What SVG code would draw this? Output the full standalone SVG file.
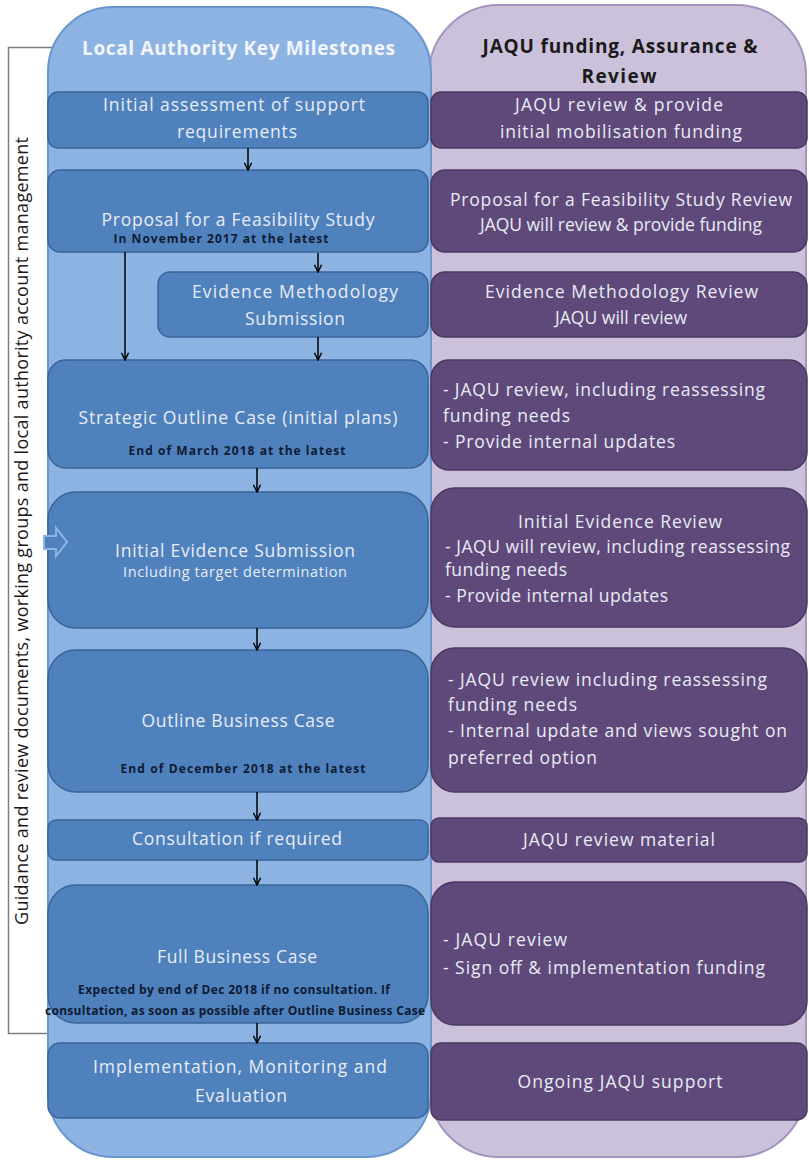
<svg xmlns="http://www.w3.org/2000/svg" width="809" height="1160" viewBox="0 0 809 1160">
<defs>
<marker id="ah" viewBox="0 0 10 10" refX="9" refY="5" markerWidth="9" markerHeight="9" markerUnits="userSpaceOnUse" orient="auto">
<path d="M1,1 L9,5 L1,9" fill="none" stroke="#000" stroke-width="1.6"/>
</marker>
</defs>
<style>
text{font-family:"Open Sans","Liberation Sans",sans-serif;}
.lb{fill:#4F81BD;stroke:#3A659A;stroke-width:1.5;}
.rb{fill:#5F497A;stroke:#4A3962;stroke-width:1.5;}
.t{font-size:17.5px;fill:#E8ECF4;}
.tc{text-anchor:middle;}
.d{font-size:12px;font-weight:bold;fill:#0E1B33;text-anchor:middle;}
.h{font-size:19px;font-weight:bold;text-anchor:middle;}
.c{stroke:#000;stroke-width:1.5;fill:none;marker-end:url(#ah);}
</style>
<rect width="809" height="1160" fill="#fff"/>
<g id="bracket">
<rect x="8.5" y="47.5" width="45" height="986" fill="#fff" stroke="#7F7F7F" stroke-width="1.5"/>
<text transform="translate(28,531) rotate(-90)" text-anchor="middle" font-size="18" fill="#1a1a1a" textLength="788">Guidance and review documents, working groups and local authority account management</text>
</g>
<g id="lane-jaqu">
<rect x="429" y="5" width="377" height="1152" rx="70" fill="#CCC1DA" stroke="#A395BF" stroke-width="2"/>
<text class="h" x="620" y="53" fill="#1A1A1A" textLength="275">JAQU funding, Assurance &amp;</text>
<text class="h" x="619" y="83" fill="#1A1A1A" textLength="75">Review</text>
</g>
<g id="lane-la">
<rect x="48" y="7" width="383" height="1150" rx="65" fill="#8DB3E2" stroke="#6A96CE" stroke-width="2"/>
<text class="h" x="238.5" y="55" fill="#F2F5FB" textLength="313">Local Authority Key Milestones</text>
</g>
<g id="la-initial">
<rect class="lb" x="48" y="92" width="380" height="56" rx="10"/>
<text class="t tc" x="234" y="111" textLength="262">Initial assessment of support</text>
<text class="t tc" x="237" y="138" textLength="120">requirements</text>
</g>
<g id="la-proposal">
<rect class="lb" x="48" y="170" width="380" height="82" rx="12"/>
<text class="t tc" x="238" y="226" textLength="273">Proposal for a Feasibility Study</text>
<text class="d" x="221" y="243" textLength="215">In November 2017 at the latest</text>
</g>
<g id="la-evidence-method">
<rect class="lb" x="158" y="272" width="270" height="65" rx="12"/>
<text class="t tc" x="295" y="298" textLength="206">Evidence Methodology</text>
<text class="t tc" x="295" y="325" textLength="100">Submission</text>
</g>
<g id="la-soc">
<rect class="lb" x="48" y="360" width="380" height="108" rx="18"/>
<text class="t tc" x="238" y="424" textLength="319">Strategic Outline Case (initial plans)</text>
<text class="d" x="237" y="455" textLength="217">End of March 2018 at the latest</text>
</g>
<g id="la-ies">
<rect class="lb" x="48" y="492" width="380" height="136" rx="28"/>
<path d="M44,536 L56,536 L56,528 L67,542 L56,556 L56,549 L44,549 Z" fill="#4F81BD" stroke="#8DB3E2" stroke-width="2"/>
<text class="t tc" x="235" y="557" textLength="240">Initial Evidence Submission</text>
<text class="tc" x="235" y="577" font-size="14.5" fill="#E8ECF4" textLength="224">Including target determination</text>
</g>
<g id="la-obc">
<rect class="lb" x="48" y="650" width="380" height="142" rx="28"/>
<text class="t tc" x="238" y="727" textLength="193">Outline Business Case</text>
<text class="d" x="243" y="773" textLength="245">End of December 2018 at the latest</text>
</g>
<g id="la-consult">
<rect class="lb" x="48" y="820" width="380" height="40" rx="8"/>
<text class="t tc" x="237" y="845" textLength="210">Consultation if required</text>
</g>
<g id="la-fbc">
<rect class="lb" x="48" y="885" width="380" height="138" rx="28"/>
<text class="t tc" x="237" y="963" textLength="160">Full Business Case</text>
<text class="d" x="234" y="994" font-size="11" textLength="312">Expected by end of Dec 2018 if no consultation.  If</text>
<text class="d" x="235" y="1015" font-size="11" textLength="380">consultation,  as soon as possible after Outline Business Case</text>
</g>
<g id="la-impl">
<rect class="lb" x="48" y="1043" width="380" height="75" rx="12"/>
<text class="t tc" x="240" y="1073" textLength="294">Implementation, Monitoring and</text>
<text class="t tc" x="241" y="1102" textLength="92">Evaluation</text>
</g>
<g id="jq-initial">
<rect class="rb" x="431" y="92" width="376" height="56" rx="10"/>
<text class="t tc" x="619" y="111" textLength="208">JAQU review &amp; provide</text>
<text class="t tc" x="621" y="138" textLength="242">initial mobilisation funding</text>
</g>
<g id="jq-proposal">
<rect class="rb" x="431" y="170" width="376" height="82" rx="14"/>
<text class="t tc" x="621" y="206" textLength="342">Proposal for a Feasibility Study Review</text>
<text class="t tc" x="621" y="231" font-size="16" textLength="282">JAQU will review &amp; provide funding</text>
</g>
<g id="jq-evidence-method">
<rect class="rb" x="431" y="272" width="376" height="65" rx="14"/>
<text class="t tc" x="621.5" y="298" textLength="273">Evidence Methodology Review</text>
<text class="t tc" x="621" y="324" font-size="16" textLength="132">JAQU will review</text>
</g>
<g id="jq-soc">
<rect class="rb" x="431" y="360" width="376" height="110" rx="18"/>
<text class="t" x="443" y="396" textLength="322">- JAQU review, including reassessing</text>
<text class="t" x="443" y="422" textLength="127">funding needs</text>
<text class="t" x="443" y="448" textLength="232">- Provide internal updates</text>
</g>
<g id="jq-ies">
<rect class="rb" x="431" y="488" width="376" height="139" rx="24"/>
<text class="t tc" x="620" y="528" textLength="204">Initial Evidence Review</text>
<text class="t" x="445" y="553" textLength="345">- JAQU will review, including reassessing</text>
<text class="t" x="445" y="576" textLength="122">funding needs</text>
<text class="t" x="445" y="602" textLength="223">- Provide internal updates</text>
</g>
<g id="jq-obc">
<rect class="rb" x="431" y="648" width="376" height="144" rx="24"/>
<text class="t" x="448" y="686" textLength="319">- JAQU review including reassessing</text>
<text class="t" x="448" y="711" textLength="129">funding needs</text>
<text class="t" x="448" y="737" textLength="339">- Internal update and views sought on</text>
<text class="t" x="448" y="764" textLength="149">preferred option</text>
</g>
<g id="jq-consult">
<rect class="rb" x="431" y="818" width="376" height="44" rx="8"/>
<text class="t tc" x="619" y="846" textLength="192">JAQU review material</text>
</g>
<g id="jq-fbc">
<rect class="rb" x="431" y="882" width="376" height="143" rx="24"/>
<text class="t" x="443" y="946" textLength="124">- JAQU review</text>
<text class="t" x="443" y="974" textLength="322">- Sign off &amp; implementation funding</text>
</g>
<g id="jq-impl">
<rect class="rb" x="431" y="1043" width="376" height="77" rx="10"/>
<text class="t tc" x="620" y="1088" textLength="205">Ongoing JAQU support</text>
</g>
<g id="connectors">
<line class="c" x1="248" y1="148" x2="248" y2="170"/>
<line class="c" x1="125" y1="252" x2="125" y2="360"/>
<line class="c" x1="318" y1="253" x2="318" y2="272"/>
<line class="c" x1="318" y1="337" x2="318" y2="360"/>
<line class="c" x1="257" y1="468" x2="257" y2="492"/>
<line class="c" x1="257" y1="628" x2="257" y2="650"/>
<line class="c" x1="257" y1="792" x2="257" y2="820"/>
<line class="c" x1="257" y1="860" x2="257" y2="885"/>
<line class="c" x1="257" y1="1023" x2="257" y2="1043"/>
</g>
</svg>
